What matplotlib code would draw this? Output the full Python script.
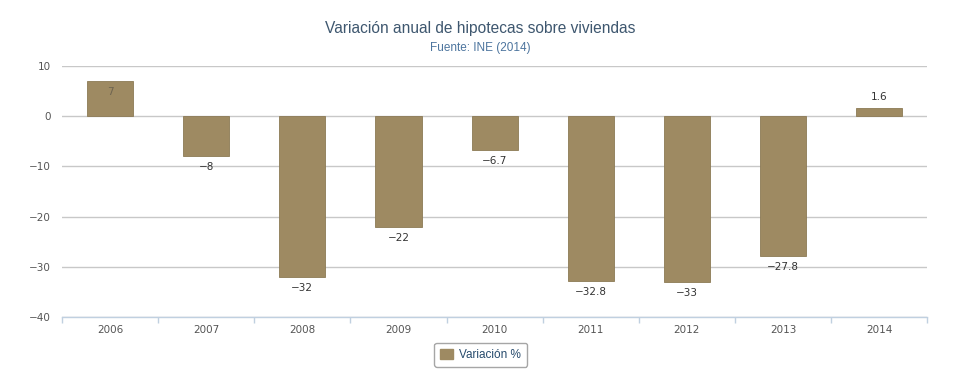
import matplotlib.pyplot as plt
from matplotlib.patches import Patch

years = ["2006", "2007", "2008", "2009", "2010", "2011", "2012", "2013", "2014"]
values = [7, -8, -32, -22, -6.7, -32.8, -33, -27.8, 1.6]
labels = ["7", "−8", "−32", "−22", "−6.7", "−32.8", "−33", "−27.8", "1.6"]

bar_color = "#9E8A62"

plt.rcParams["font.family"] = ["Liberation Sans", "DejaVu Sans"]

fig = plt.figure(figsize=(9.75, 3.9), dpi=100)
ax = fig.add_axes([0.0636, 0.1872, 0.8874, 0.6436])

x = list(range(len(years)))
ax.bar(x, values, width=0.48, color=bar_color, edgecolor="#8C7A55", linewidth=0.6, zorder=3)

# label inside the bar when it is tall and positive, otherwise outside
for xi, v, lab in zip(x, values, labels):
    if v >= 5:
        ax.text(xi, v - 1.2, lab, ha="center", va="top", fontsize=7.5,
                color="#6E6450", family="DejaVu Sans", zorder=4)
    elif v >= 0:
        ax.text(xi, v + 1.2, lab, ha="center", va="bottom", fontsize=7.5,
                color="#333333", family="DejaVu Sans", zorder=4)
    else:
        ax.text(xi, v - 1.2, lab, ha="center", va="top", fontsize=7.5,
                color="#333333", family="DejaVu Sans", zorder=4)

ax.set_xlim(-0.5, len(years) - 0.5)
ax.set_ylim(-40, 10)
ax.set_yticks([10, 0, -10, -20, -30, -40])
ax.set_yticklabels(["10", "0", "−10", "−20", "−30", "−40"], family="DejaVu Sans")
ax.yaxis.grid(True, color="#C8C8C8", linewidth=1, zorder=0)
ax.tick_params(axis="y", length=0, labelsize=7.5, labelcolor="#555555", pad=8)

ax.set_xticks(x)
ax.set_xticklabels(years, family="DejaVu Sans")
ax.tick_params(axis="x", length=0, labelsize=7.5, labelcolor="#555555", pad=6)
ax.set_xticks([i - 0.5 for i in range(len(years) + 1)], minor=True)
ax.tick_params(axis="x", which="minor", length=4, color="#C0D0E0", width=1)

for side in ["top", "right", "left"]:
    ax.spines[side].set_visible(False)
ax.spines["bottom"].set_color("#C0D0E0")
ax.spines["bottom"].set_linewidth(1)

fig.text(0.493, 0.928, "Variación anual de hipotecas sobre viviendas", ha="center",
         va="center", fontsize=11.2, color="#3E576F")
fig.text(0.493, 0.877, "Fuente: INE (2014)", ha="center", va="center",
         fontsize=8.5, color="#4D759E")

leg = fig.legend(handles=[Patch(facecolor=bar_color, edgecolor=bar_color, label="Variación %")],
                 loc="center", bbox_to_anchor=(0.493, 0.09), fontsize=8.5, frameon=True,
                 fancybox=True, handlelength=1.1, handleheight=0.9, handletextpad=0.5,
                 borderpad=0.5)
leg.get_frame().set_edgecolor("#909090")
leg.get_frame().set_linewidth(1)
for t in leg.get_texts():
    t.set_color("#274B6D")

fig.savefig("out.png", dpi=100)
